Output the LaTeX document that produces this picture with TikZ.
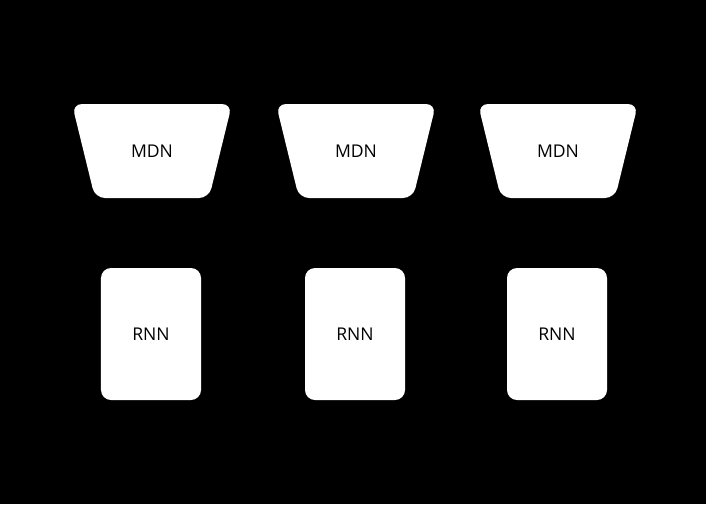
\documentclass[tikz,border=0pt]{standalone}
\usepackage{fontspec}
\setmainfont{Open Sans}
\usetikzlibrary{positioning}
\begin{document}
\begin{tikzpicture}
[x=0.03cm, y=-0.03cm,
rnn/.style={rectangle, rounded corners=3mm, fill=white, minimum width=3cm, minimum height=3.96cm, font=\fontsize{15}{18}\selectfont},
mdn-txt/.style={font=\fontsize{15}{18}\selectfont},
mdn/.style={fill=white, rounded corners=3mm},]
\fill [black] (0,0) rectangle (706,504);
\foreach \i/\x in {1/152, 2/356, 3/558} {
  \fill [mdn] (\x-80,104) -- (\x+80,104) -- (\x+57,198) -- (\x-57,198) -- cycle;
  \node (mdn-\i) [mdn-txt] at (\x,151) {MDN};
  \node (rnn-\i) [rnn] at (\x-1,334) {RNN};
}
\end{tikzpicture}
\end{document}
